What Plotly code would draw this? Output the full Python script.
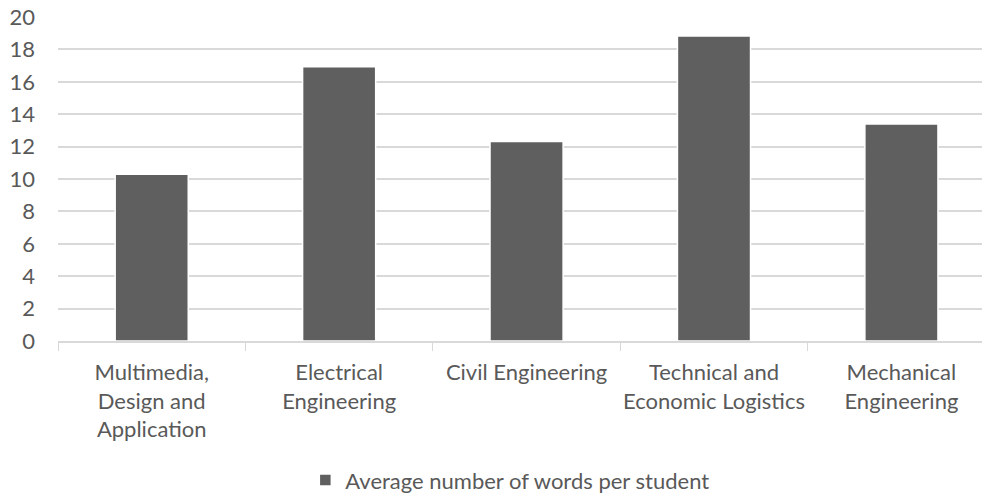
import plotly.graph_objects as go

CATEGORIES = [
    "Multimedia,<br>Design and<br>Application",
    "Electrical<br>Engineering",
    "Civil Engineering",
    "Technical and<br>Economic Logistics",
    "Mechanical<br>Engineering",
]
AVG_WORDS = [10.29, 16.93, 12.31, 18.82, 13.4]
SERIES_NAME = "Average number of words per student"

TEXT = "#595959"
GRID = "#d9d9d9"
FONT = "Lato, Open Sans, sans-serif"

fig = go.Figure()
fig.add_trace(go.Bar(
    x=CATEGORIES, y=AVG_WORDS, name=SERIES_NAME,
    marker=dict(color="#5f5f5f", line=dict(color="white", width=1.5)),
    width=0.39, showlegend=True,
))

fig.update_layout(
    width=982, height=495,
    margin=dict(l=58, r=0, t=17, b=154),
    plot_bgcolor="white", paper_bgcolor="white",
    font=dict(family=FONT, size=22, color=TEXT),
    xaxis=dict(
        range=[-0.5, 4.43], showgrid=False, automargin=False,
        showline=True, linecolor=GRID, linewidth=1.5,
        ticks="outside", tickson="boundaries", ticklen=8, tickcolor=GRID,
        ticklabelstandoff=11, tickangle=0,
        tickfont=dict(size=22, color=TEXT),
    ),
    yaxis=dict(
        range=[0, 20], dtick=2, showgrid=True, gridcolor=GRID, gridwidth=1.5,
        zeroline=False, ticks="", ticklabelstandoff=22, automargin=False,
        tickfont=dict(size=22, color=TEXT),
    ),
    legend=dict(
        orientation="h", x=0.489, xanchor="center",
        yref="container", y=0.03, yanchor="middle",
        font=dict(size=22, color=TEXT),
    ),
)

# page has a default 8px body margin; drop it so the figure fills the window
fig.write_html(
    "out.html",
    config={"displayModeBar": False},
    post_script="document.body.style.margin='0';",
)
